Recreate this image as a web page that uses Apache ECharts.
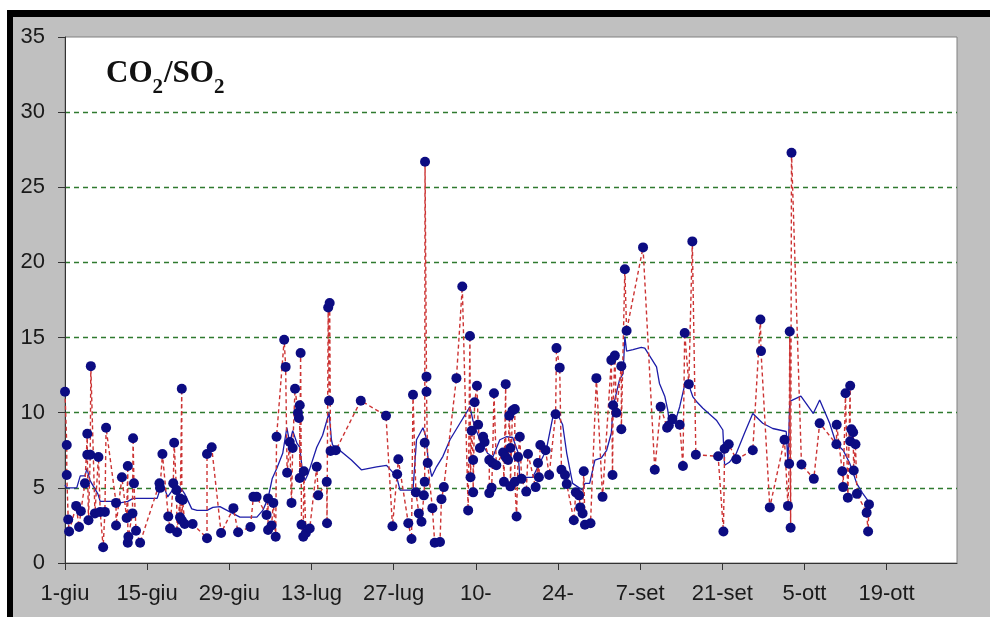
<!DOCTYPE html>
<html>
<head>
<meta charset="utf-8">
<script src="https://cdn.jsdelivr.net/npm/echarts@6/dist/echarts.min.js"></script>
<style>
html,body{margin:0;padding:0;background:#fff;}
#frame{position:absolute;left:7px;top:10px;width:977px;height:600px;background:#c0c0c0;border-left:6px solid #000;border-top:7px solid #000;}
#chart{position:absolute;left:0;top:0;width:990px;height:617px;}
</style>
</head>
<body>
<div id="frame"></div>
<div id="chart"></div>
<script>
// x axis: days since 1 June; tick labels every 14 days
const tickLabels = ['1-giu','15-giu','29-giu','13-lug','27-lug','10-','24-','7-set','21-set','5-ott','19-ott'];
const yTicks = [0,5,10,15,20,25,30,35];

// individual CO2/SO2 measurements (day offset, ratio)
const obsDay = [0,0.3,0.3,0.55,0.7,1.9,2.4,2.7,3.4,3.8,3.8,4.0,4.3,4.4,5.1,5.7,6.0,6.5,6.8,7.0,
8.7,8.7,9.7,10.5,10.7,10.7,10.8,11.5,11.6,11.75,12.1,12.8,16.1,16.2,16.6,17.6,17.9,18.45,18.6,19.0,
19.1,19.6,19.6,19.9,19.9,20.05,20.4,21.75,24.2,24.2,25.0,26.6,28.7,29.5,31.6,32.1,32.65,34.35,34.6,34.6,
35.2,35.5,35.9,36.05,37.35,37.6,37.85,38.3,38.6,38.8,39.2,39.7,39.85,40.0,40.0,40.15,40.3,40.6,40.7,41.05,
41.7,42.9,43.15,44.6,44.65,44.85,45.0,45.1,45.25,46.15,50.4,54.7,55.8,56.6,56.8,58.5,59.05,59.3,59.8,60.3,
60.75,61.15,61.3,61.3,61.35,61.6,61.6,61.8,62.6,63.0,63.9,64.15,64.55,66.7,67.7,68.7,69.0,69.1,69.3,69.55,
69.55,69.8,70.2,70.4,70.7,71.25,71.5,72.3,72.3,72.7,72.85,73.1,73.5,74.65,74.8,75.1,75.1,75.5,75.7,75.9,
75.9,76.25,76.65,76.65,76.95,77.2,77.5,77.8,78.6,78.9,80.2,80.6,80.75,81.0,81.9,82.5,83.6,83.75,84.3,84.6,
85.2,85.5,86.7,87.05,87.6,87.8,88.2,88.4,88.6,89.55,90.55,91.6,93.1,93.3,93.4,93.7,93.95,94.8,94.8,95.4,
95.7,98.5,100.5,101.5,102.6,102.9,103.5,104.75,105.3,105.6,106.3,106.9,107.5,111.3,112.2,112.4,113.1,114.4,117.2,118.5,
118.6,120.1,122.6,123.2,123.4,123.5,123.65,123.8,125.5,127.6,128.6,131.45,131.5,132.45,132.6,133.0,133.4,133.8,133.8,134.0,
134.3,134.4,134.7,134.95,136.6,136.85,137.0];
const obsRatio = [11.4,7.85,5.85,2.9,2.1,3.8,2.4,3.45,5.3,8.6,7.2,2.85,7.2,13.1,3.3,7.05,3.4,1.05,3.4,9.0,
4.0,2.5,5.7,3.0,6.45,1.35,1.75,3.3,8.3,5.3,2.15,1.35,5.3,5.0,7.25,3.1,2.3,5.3,8.0,4.85,
2.05,4.3,3.05,11.6,2.85,4.2,2.6,2.6,1.65,7.25,7.7,2.0,3.65,2.05,2.4,4.4,4.4,3.2,4.3,2.2,
2.5,4.0,1.75,8.4,14.85,13.05,6.0,8.05,4.0,7.65,11.6,10.0,9.65,10.5,5.65,13.97,2.55,1.75,6.1,2.0,
2.3,6.4,4.5,5.4,2.65,17.0,10.8,17.3,7.45,7.5,10.8,9.8,2.45,5.9,6.9,2.65,1.6,11.2,4.7,3.3,
2.75,4.5,5.4,8.0,26.7,12.4,11.4,6.65,3.65,1.35,1.4,4.25,5.05,12.3,18.4,3.5,15.1,5.7,8.8,6.85,
4.7,10.7,11.8,9.2,7.65,8.4,8.05,6.85,4.65,5.0,6.65,11.3,6.5,7.35,5.4,11.9,7.05,6.85,9.8,7.65,
5.1,10.15,10.25,5.4,3.1,7.05,8.4,5.6,4.75,7.25,5.05,6.65,5.7,7.85,7.5,5.85,9.9,14.3,13.0,6.2,
5.85,5.25,2.85,4.7,4.5,3.7,3.3,6.1,2.55,2.65,12.3,4.4,13.5,5.85,10.5,13.8,10.0,13.1,8.9,19.55,
15.45,21.0,6.2,10.4,9.0,9.15,9.6,9.2,6.45,15.3,11.9,21.4,7.2,7.1,2.1,7.6,7.9,6.9,7.5,16.2,
14.1,3.7,8.2,3.8,6.6,15.4,2.35,27.3,6.55,5.6,9.3,7.9,9.2,6.1,5.05,11.3,4.35,11.8,8.1,8.9,
8.7,6.15,7.9,4.6,3.35,2.1,3.9];

// running-mean curve (day offset, ratio)
const avgDay = [0,0.3,2.0,2.6,3.4,3.75,4.25,5.6,6.0,8.5,9.4,10.7,11.6,12.3,15.7,16.2,17.0,17.5,18.4,19.9,
20.4,21.6,22.5,24.2,25.2,26.4,28.1,29.8,32.7,33.7,34.6,35.3,36.1,37.1,37.8,38.3,38.8,39.5,40.0,40.5,
40.9,41.4,42.9,43.9,45.0,45.4,45.6,46.8,48.8,50.5,53.1,54.8,56.5,57.1,59.3,59.9,61.0,61.5,61.9,62.5,
63.3,64.4,65.6,67.3,68.4,69.0,69.5,70.1,70.7,72.0,72.9,74.1,75.2,76.3,77.2,77.5,79.7,80.9,82.0,83.1,
83.7,84.8,85.5,86.5,88.2,88.6,89.4,90.3,91.4,92.3,93.1,93.4,93.95,94.5,95.1,95.4,95.7,96.8,98.2,98.8,
99.6,100.8,101.3,102.2,102.7,103.0,103.9,104.75,105.6,106.2,107.0,107.6,108.7,111.0,112.1,112.4,113.2,114.4,115.8,117.2,
118.9,120.6,122.9,123.2,123.5,125.4,127.5,128.6,129.7,130.3,131.4,132.6,133.7,134.3,134.9,135.9,137.1];
const avgRatio = [5.2,5.0,5.0,5.8,5.8,6.3,5.5,4.6,4.1,4.1,4.0,4.1,4.3,4.3,4.3,4.9,4.9,4.4,4.9,4.9,
4.6,3.6,3.5,3.5,3.7,3.75,3.4,3.05,3.05,3.5,4.3,5.6,6.3,7.3,9.0,8.0,8.8,8.0,7.7,6.0,
5.5,5.9,7.7,8.5,10.0,8.2,7.85,7.5,6.85,6.2,6.4,6.5,5.75,4.85,4.85,8.2,9.0,8.4,6.85,5.75,
6.4,7.1,8.2,9.3,10.0,10.4,9.5,8.8,8.2,7.3,7.05,8.2,8.4,8.35,7.35,5.7,5.7,6.65,7.5,9.65,
10.1,9.2,7.3,5.3,4.85,5.3,5.3,6.85,7.0,7.5,8.65,10.4,11.3,12.2,12.6,15.06,14.1,14.2,14.35,14.3,
13.8,13.05,11.95,11.1,10.2,9.3,9.3,10.4,11.85,11.95,11.05,10.75,10.3,9.5,8.85,6.5,6.7,7.3,8.65,9.95,
9.3,8.95,8.75,6.6,10.75,11.1,9.95,10.85,9.85,9.3,7.95,7.5,6.65,6.0,5.3,4.65,4.0];

const zip = (a, b) => a.map((v, i) => [v, b[i]]);
const tickValues = tickLabels.map((_, i) => i * 14);

const chart = echarts.init(document.getElementById('chart'), null, {renderer: 'canvas'});
const green = '#2f7a2f';
chart.setOption({
  animation: false,
  backgroundColor: 'transparent',
  title: {
    left: 101, top: 52,
    text: '{a|CO}{b|2}{a|/SO}{b|2}',
    textStyle: {
      rich: {
        a: {fontFamily: 'Liberation Serif', fontWeight: 'bold', fontSize: 31, color: '#111', lineHeight: 34},
        b: {fontFamily: 'Liberation Serif', fontWeight: 'bold', fontSize: 21, color: '#111', lineHeight: 20, padding: [28, 1, 0, 0]}
      }
    }
  },
  grid: {left: 65, top: 37, right: 33, bottom: 54, show: true, backgroundColor: '#ffffff', borderColor: '#808080', borderWidth: 1},
  xAxis: {
    type: 'value', min: 0, max: 152, interval: 14,
    splitLine: {show: false},
    axisLine: {show: true, onZero: false, lineStyle: {color: '#333', width: 1}},
    axisTick: {show: true, length: 7, lineStyle: {color: '#333'}, customValues: tickValues},
    axisLabel: {
      customValues: tickValues,
      fontFamily: 'Liberation Sans', fontSize: 22, color: '#1a1a1a', margin: 20,
      formatter: v => { const i = Math.round(v / 14); return (Math.abs(v - i * 14) < 1e-6 && tickLabels[i]) ? tickLabels[i] : ''; }
    }
  },
  yAxis: {
    type: 'value', min: 0, max: 35, interval: 5,
    axisLine: {show: true, lineStyle: {color: '#333', width: 1}},
    axisTick: {show: true, length: 7, lineStyle: {color: '#333'}},
    axisLabel: {fontFamily: 'Liberation Sans', fontSize: 22, color: '#1a1a1a', margin: 20},
    splitLine: {show: true, lineStyle: {color: ['rgba(0,0,0,0)', green, green, green, green, green, green, 'rgba(0,0,0,0)'], type: [5, 4], width: 1.3}}
  },
  series: [
    {
      type: 'line', name: 'media', data: zip(avgDay, avgRatio), showSymbol: false, symbol: 'none',
      lineStyle: {color: '#1c1ca8', width: 1.3}, z: 2
    },
    {
      type: 'line', name: 'CO2/SO2', data: zip(obsDay, obsRatio),
      symbol: 'circle', symbolSize: 10, showAllSymbol: true,
      itemStyle: {color: '#0c0c82'},
      lineStyle: {color: '#cc3333', width: 1.4, type: [4, 3]}, z: 3
    }
  ]
});
</script>
</body>
</html>
